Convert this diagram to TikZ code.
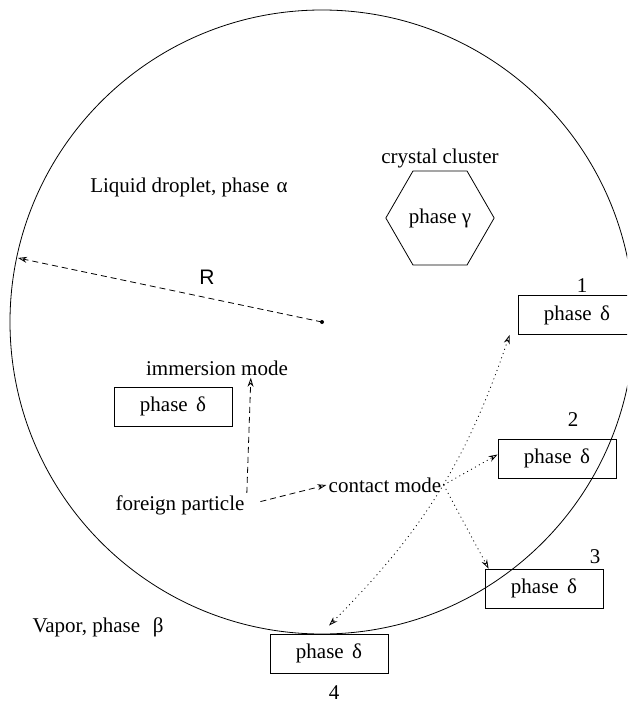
\documentclass[tikz,border=0pt]{standalone}
\usepackage{fontspec}
\setmainfont{Liberation Serif}
\newfontfamily\rfont{Liberation Sans}
\usetikzlibrary{arrows.meta,positioning,shapes.geometric}
\tikzset{
  lbl/.style={font=\fontsize{21}{25}\selectfont,inner sep=2pt},
  phasebox/.style={draw,lbl,minimum width=118pt,minimum height=39pt},
  openhead/.style={},
  dasharrow/.style={dash pattern=on 6pt off 4pt,-{Stealth[open,length=9pt,width=6pt]}},
  dotarrow/.style={dash pattern=on 1pt off 3.5pt,-{Stealth[open,length=9pt,width=6pt]}},
  dotboth/.style={dash pattern=on 1pt off 3.5pt,{Stealth[open,length=9pt,width=6pt]}-{Stealth[open,length=9pt,width=6pt]}}
}
\newcommand{\phd}{phase\hspace{0.4em}δ}
\begin{document}
\begin{tikzpicture}[x=1pt,y=-1pt,line width=0.8pt]
                \useasboundingbox (0,0) rectangle (627,704);
                \clip (0,0) rectangle (627,704);
                \coordinate (ctr) at (322,322);
                \draw (ctr) circle (312); % the droplet
                \fill (ctr) circle (2);
                \coordinate (rim) at (18,258);
                \draw[dasharrow] (ctr) -- (rim);
                \node[lbl] (rlab) at (207,277) {\rfont R};
                \node[lbl] (liq) at (189,187) {Liquid droplet, phase\hspace{0.35em}α};
                \node[lbl] (vap) at (98,627) {Vapor, phase\hspace{0.6em}β};
                % crystal cluster
                \node[draw,lbl,regular polygon,regular polygon sides=6,minimum size=105pt] (hex) at (440,218) {phase γ};
                \node[lbl,above=0pt of hex] (cc) {crystal cluster};
                % the four phase delta boxes and the one inside
                \node[phasebox] (b0) at (173,406.5) {\phd};
                \node[phasebox] (b1) at (577,315) {\phd};
                \node[phasebox] (b2) at (557,458.5) {\phd};
                \node[phasebox] (b3) at (544,588.5) {\phd};
                \node[phasebox] (b4) at (329,653.5) {\phd};
                \node[lbl] (n1) at (582,286) {1};
                \node[lbl] (n2) at (573,420) {2};
                \node[lbl] (n3) at (595,557) {3};
                \node[lbl] (n4) at (334,693) {4};
                % modes
                \node[lbl] (im) at (217,368) {immersion mode};
                \node[lbl] (fp) at (180,505) {foreign particle};
                \node[lbl] (cm) at (385,485) {contact mode};
                \draw[dasharrow] (fp.north east) -- ([xshift=4pt]fp.north east |- im.south);
                \draw[dasharrow,shorten <=14pt] (fp.east) -- (cm.west);
                \draw[dotarrow] (cm.east) -- ([yshift=4pt]b2.west);
                \draw[dotarrow] (cm.east) -- ([xshift=4pt]b3.north west);
                \draw[dotboth] ([xshift=-8pt]b1.south west) to[bend left=13] ([yshift=8pt]b4.north);
                \end{tikzpicture}
\end{document}
